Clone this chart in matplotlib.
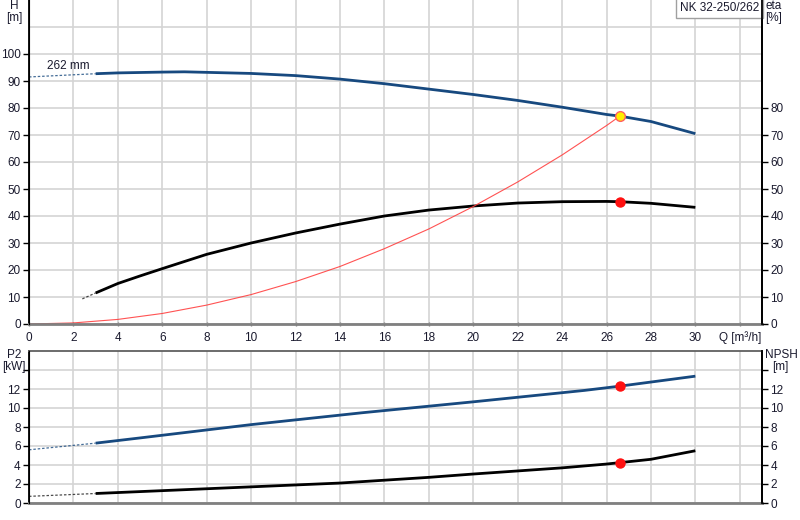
import matplotlib
matplotlib.use("Agg")
import matplotlib.pyplot as plt
from matplotlib.ticker import FixedLocator

plt.rcParams['font.family'] = ['Liberation Sans', 'DejaVu Sans']
plt.rcParams['font.size'] = 8.5

# ---- data ----
q_h_ext = [0, 1.5, 3]
h_ext = [91.5, 92.1, 92.7]
q_h = [3, 4, 6, 7, 8, 10, 12, 14, 16, 18, 20, 22, 24, 26, 26.6, 28, 30]
h = [92.7, 93.0, 93.3, 93.4, 93.2, 92.8, 92.0, 90.7, 89.0, 87.0, 85.0, 82.8, 80.3, 77.6, 77.0, 75.0, 70.5]

q_eta_ext = [2.4, 3]
eta_ext = [9.3, 11.5]
q_eta = [3, 4, 5, 6, 8, 10, 12, 14, 16, 18, 20, 22, 24, 26, 26.6, 28, 30]
eta = [11.5, 15.0, 17.8, 20.5, 25.8, 30.0, 33.7, 37.0, 40.0, 42.2, 43.7, 44.8, 45.3, 45.4, 45.3, 44.7, 43.2]

q_sys = [0, 2, 4, 6, 8, 10, 12, 14, 16, 18, 20, 22, 24, 26, 26.6]
h_sys = [0, 0.4, 1.7, 3.9, 7.0, 10.9, 15.7, 21.3, 27.9, 35.2, 43.5, 52.6, 62.6, 73.5, 77.0]

q_duty = 26.6
h_duty = 77.0
eta_duty = 45.3

q_p2_ext = [0, 1.5, 3]
p2_ext = [5.6, 5.95, 6.3]
q_p2 = [3, 5, 10, 15, 20, 25, 26.6, 30]
p2 = [6.3, 6.85, 8.25, 9.5, 10.65, 11.85, 12.3, 13.35]
p2_duty = 12.3

q_npsh_ext = [0, 1.5, 3]
npsh_ext = [0.7, 0.85, 1.0]
q_npsh = [3, 6, 8, 10, 14, 18, 20, 24, 26, 26.6, 28, 30]
npsh = [1.0, 1.3, 1.5, 1.7, 2.1, 2.7, 3.05, 3.7, 4.1, 4.25, 4.6, 5.5]
npsh_duty = 4.25

x_ticks = list(range(0, 31, 2))
x_labels = [str(v) for v in x_ticks]
h_ticks = list(range(0, 101, 10))
eta_ticks = list(range(0, 81, 10))
p_ticks = list(range(0, 15, 2))
p_labels = [str(v) for v in range(0, 13, 2)] + ['']

impeller_label = "262 mm"
title = "NK 32-250/262"

BLUE = '#17497f'
BLACK = '#000000'
GRID = '#d4d4d4'
TXT = '#1a1a2e'

W, H = 800, 520
fig = plt.figure(figsize=(8, 5.2), dpi=100)

def box(l, t, r, b):
    return [l / W, 1 - b / H, (r - l) / W, (b - t) / H]

ax1 = fig.add_axes(box(29, 0, 762, 324))
ax2 = fig.add_axes(box(29, 351, 762, 503))

for ax in (ax1, ax2):
    ax.set_xlim(0, 33)
    ax.xaxis.set_major_locator(FixedLocator(x_ticks + [32]))
    ax.grid(True, which='major', color=GRID, linewidth=1.2)
    ax.grid(True, which='minor', axis='y', color=GRID, linewidth=1.2)
    ax.set_axisbelow(True)
    ax.spines['bottom'].set_color('#808080')
    ax.spines['bottom'].set_linewidth(2)
    ax.spines['left'].set_color(BLACK)
    ax.spines['right'].set_color(BLACK)
    ax.spines['left'].set_linewidth(1.3)
    ax.spines['right'].set_linewidth(1.3)
    ax.tick_params(axis='y', colors=BLACK, labelcolor=TXT, length=4, width=1, pad=2, labelsize=8.5)
    ax.tick_params(axis='x', colors='#808080', labelcolor=TXT, length=3, width=1, labelsize=8.5, direction='inout')

# ---- top axes ----
ax1.set_ylim(0, 120)
ax1.spines['top'].set_visible(False)
ax1.set_yticks(h_ticks)
ax1.yaxis.set_minor_locator(FixedLocator([110]))
ax1.tick_params(axis='y', which='minor', length=0)
ax1.set_xticklabels(x_labels + ['Q [m³/h]'])
ax1.tick_params(axis='x', pad=4)

ax1.plot(q_h_ext, h_ext, color=BLUE, lw=0.9, ls=(0, (2, 1.5)), alpha=0.8)
ax1.plot(q_h, h, color=BLUE, lw=2.0, solid_capstyle='butt')
ax1.plot(q_eta_ext, eta_ext, color=BLACK, lw=0.9, ls=(0, (2, 1.5)), alpha=0.7)
ax1.plot(q_eta, eta, color=BLACK, lw=2.0, solid_capstyle='butt')
ax1.plot(q_sys, h_sys, color='#ff4040', lw=0.8, alpha=0.9)
ax1.plot([q_duty], [h_duty], 'o', ms=7, mfc='#ffee00', mec='#ff6060', mew=1, zorder=5)
ax1.plot([q_duty], [eta_duty], 'o', ms=6.5, color='#ff1010', zorder=5)
ax1.text(0.8, 95.6, impeller_label, color=TXT, fontsize=8.5, ha='left', va='center')

ax1r = ax1.twinx()
ax1r.set_ylim(0, 120)
ax1r.set_yticks(eta_ticks)
ax1r.spines['top'].set_visible(False)
ax1r.spines['right'].set_linewidth(1.3)
ax1r.spines['bottom'].set_visible(False)
ax1r.tick_params(axis='y', colors=BLACK, labelcolor=TXT, length=4, width=1, pad=2, labelsize=8.5)

fig.text(14 / W, 1 - 6 / H, 'H', ha='center', va='center', color=TXT)
fig.text(14 / W, 1 - 18 / H, '[m]', ha='center', va='center', color=TXT)
fig.text(774 / W, 1 - 6 / H, 'eta', ha='center', va='center', color=TXT)
fig.text(774 / W, 1 - 18 / H, '[%]', ha='center', va='center', color=TXT)

ax1.text(0.996, 0.994, title, transform=ax1.transAxes, ha='right', va='top', color=TXT, fontsize=8.5,
         bbox=dict(boxstyle='square,pad=0.35', fc='white', ec='#a0a0a0', lw=1), zorder=10)

# ---- bottom axes ----
ax2.set_ylim(0, 16)
ax2.spines['top'].set_color('#606060')
ax2.spines['top'].set_linewidth(1.3)
ax2.set_yticks(p_ticks)
ax2.set_yticklabels(p_labels)
ax2.set_xticklabels([])
ax2.tick_params(axis='x', length=0)

ax2.plot(q_p2_ext, p2_ext, color=BLUE, lw=0.9, ls=(0, (2, 1.5)), alpha=0.8)
ax2.plot(q_p2, p2, color=BLUE, lw=2.0, solid_capstyle='butt')
ax2.plot(q_npsh_ext, npsh_ext, color=BLACK, lw=0.9, ls=(0, (2, 1.5)), alpha=0.7)
ax2.plot(q_npsh, npsh, color=BLACK, lw=2.0, solid_capstyle='butt')
ax2.plot([q_duty], [p2_duty], 'o', ms=6.5, color='#ff1010', zorder=5)
ax2.plot([q_duty], [npsh_duty], 'o', ms=6.5, color='#ff1010', zorder=5)

ax2r = ax2.twinx()
ax2r.set_ylim(0, 16)
ax2r.set_yticks(p_ticks)
ax2r.set_yticklabels(p_labels)
ax2r.spines['top'].set_visible(False)
ax2r.spines['bottom'].set_visible(False)
ax2r.spines['right'].set_linewidth(1.3)
ax2r.tick_params(axis='y', colors=BLACK, labelcolor=TXT, length=4, width=1, pad=2, labelsize=8.5)

fig.text(14 / W, 1 - 355 / H, 'P2', ha='center', va='center', color=TXT)
fig.text(14 / W, 1 - 367 / H, '[kW]', ha='center', va='center', color=TXT)
fig.text(781 / W, 1 - 355 / H, 'NPSH', ha='center', va='center', color=TXT)
fig.text(780 / W, 1 - 367 / H, '[m]', ha='center', va='center', color=TXT)

fig.savefig('out.png', dpi=100)
